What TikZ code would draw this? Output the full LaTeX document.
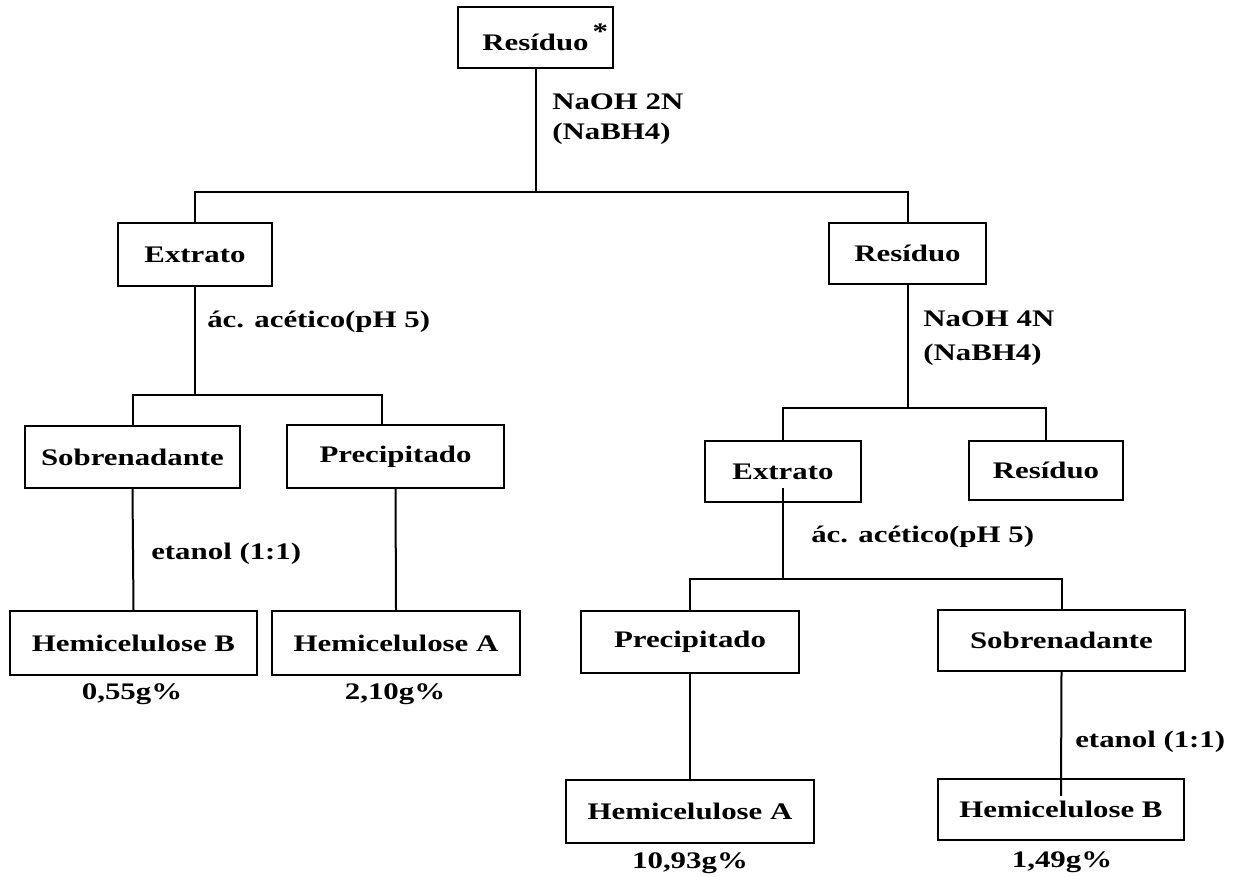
\documentclass[tikz,border=0pt]{standalone}
\usepackage{fontspec}
\setmainfont{Liberation Serif}[FakeStretch=1.3]
\usetikzlibrary{calc}

\tikzset{
  stage/.style 2 args={draw, line width=1.6pt, rectangle, inner sep=0pt,
    minimum width=#1*0.75pt, minimum height=#2*0.75pt,
    font=\fontsize{17.8}{21}\selectfont\bfseries},
  reagent/.style={anchor=base west, inner sep=0pt,
    font=\fontsize{17.8}{21}\selectfont\bfseries},
  yield/.style={anchor=base, inner sep=0pt,
    font=\fontsize{17.8}{21}\selectfont\bfseries},
  link/.style={line width=1.5pt}
}

\begin{document}
\begin{tikzpicture}[x=0.75pt, y=-0.75pt]
\useasboundingbox[fill=white] (0,0) rectangle (1241,877);

% boxes
\node[stage={155}{61}] (r0) at (535.5,37.5) {Resíduo\rlap{\hspace{3pt}\raisebox{8pt}{*}}};
\node[stage={154}{63}] (ext1) at (195,254.5) {Extrato};
\node[stage={157}{61}] (res1) at (907.5,253.5) {Resíduo};
\node[stage={215}{62}] (sob1) at (132.5,457) {Sobrenadante};
\node[stage={217}{63}] (pre1) at (395.5,456.5) {Precipitado};
\node[stage={156}{61}] (ext2) at (783,471.5) {Extrato};
\node[stage={154}{59}] (res2) at (1046,470.5) {Resíduo};
\node[stage={247}{64}] (hB1) at (133.5,643) {Hemicelulose B};
\node[stage={248}{64}] (hA1) at (396,643) {Hemicelulose A};
\node[stage={218}{62}] (pre2) at (690,642) {Precipitado};
\node[stage={247}{61}] (sob2) at (1061.5,640.5) {Sobrenadante};
\node[stage={248}{63}] (hA2) at (690,811.5) {Hemicelulose A};
\node[stage={246}{61}] (hB2) at (1061,809.5) {Hemicelulose B};

% branch points
\coordinate (j1) at (535.5,192);
\coordinate (j2) at (195,395);
\coordinate (j3) at (907.5,408);
\coordinate (j4) at (783,579);

% connectors
\draw[link] (r0.south) -- (j1);
\draw[link] (ext1.north) |- (j1) -| (res1.north);
\draw[link] (ext1.south) -- (j2);
\draw[link] (sob1.north) |- (j2) -| ([xshift=-10.5pt]pre1.north);
\draw[link] (sob1.south) -- (hB1.north);
\draw[link] (pre1.south) -- (hA1.north);
\draw[link] (res1.south) -- (j3);
\draw[link] (ext2.north) |- (j3) -| (res2.north);
\draw[link] ($(ext2.south)+(0,-15)$) -- (j4);
\draw[link] (pre2.north) |- (j4) -| (sob2.north);
\draw[link] (pre2.south) -- (hA2.north);
\draw[link] (sob2.south) -- ($(hB2.north)+(0,18)$);

% reagents
\node[reagent] (n1a) at (552,110) {NaOH 2N};
\node[reagent] (n1b) at (552,140) {(NaBH4)};
\node[reagent] (n2a) at (923,326) {NaOH 4N};
\node[reagent] (n2b) at (923,360) {(NaBH4)};
\node[reagent] (a1) at (207,327) {ác. acético(pH 5)};
\node[reagent] (a2) at (811,542) {ác. acético(pH 5)};
\node[reagent] (e1) at (151,559) {etanol (1:1)};
\node[reagent] (e2) at (1075,747) {etanol (1:1)};

% yields
\node[yield] (y1) at (132,699) {0,55g\%};
\node[yield] (y2) at (395,699) {2,10g\%};
\node[yield] (y3) at (690,868) {10,93g\%};
\node[yield] (y4) at (1062,867) {1,49g\%};
\end{tikzpicture}
\end{document}
